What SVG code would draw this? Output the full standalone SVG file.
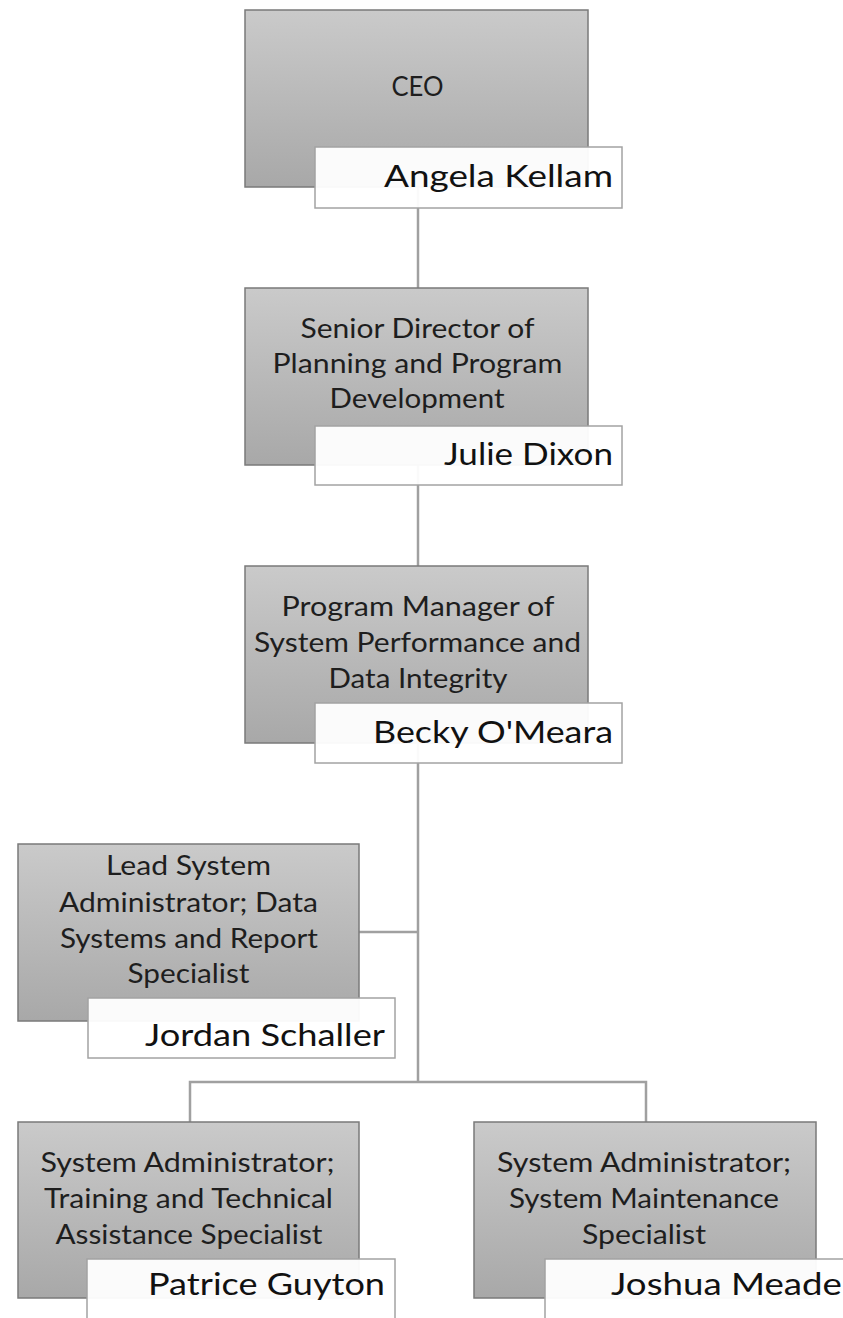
<svg xmlns="http://www.w3.org/2000/svg" width="843" height="1318" viewBox="0 0 843 1318">
<defs>
<linearGradient id="g" x1="0" y1="0" x2="0" y2="1">
<stop offset="0" stop-color="#cacaca"/>
<stop offset="1" stop-color="#a8a8a8"/>
</linearGradient>
<style>
.box{fill:url(#g);stroke:#7a7a7a;stroke-width:1.5}
.nm{fill:#ffffff;fill-opacity:0.95;stroke:#a3a3a3;stroke-width:1.5}
.t{font-family:Lato,"Liberation Sans",sans-serif;font-size:27px;fill:#1e1e1e;text-anchor:middle}
.n{font-family:Lato,"Liberation Sans",sans-serif;font-size:31px;fill:#111;text-anchor:end}
.c{fill:none;stroke:#a0a0a0;stroke-width:2.5}
</style>
</defs>
<rect width="843" height="1318" fill="#ffffff"/>
<g id="connectors">
<path class="c" d="M418 187V288"/>
<path class="c" d="M418 465V566"/>
<path class="c" d="M418 743V1082"/>
<path class="c" d="M359 932H418"/>
<path class="c" d="M190 1122V1082H646V1122"/>
</g>
<g id="ceo">
<rect class="box" x="245" y="10" width="343" height="177"/>
<text class="t" x="417.5" y="96" textLength="52" lengthAdjust="spacingAndGlyphs">CEO</text>
<rect class="nm" x="315" y="147" width="307" height="61"/>
<text class="n" x="613" y="187" textLength="229" lengthAdjust="spacingAndGlyphs">Angela Kellam</text>
</g>
<g id="senior-director">
<rect class="box" x="245" y="288" width="343" height="177"/>
<text class="t" x="417.5" y="338" textLength="234" lengthAdjust="spacingAndGlyphs">Senior Director of</text>
<text class="t" x="417.5" y="373" textLength="290" lengthAdjust="spacingAndGlyphs">Planning and Program</text>
<text class="t" x="417" y="408" textLength="175" lengthAdjust="spacingAndGlyphs">Development</text>
<rect class="nm" x="315" y="426" width="307" height="59"/>
<text class="n" x="613" y="465" textLength="169" lengthAdjust="spacingAndGlyphs">Julie Dixon</text>
</g>
<g id="program-manager">
<rect class="box" x="245" y="566" width="343" height="177"/>
<text class="t" x="418" y="616" textLength="273" lengthAdjust="spacingAndGlyphs">Program Manager of</text>
<text class="t" x="417.5" y="652" textLength="327" lengthAdjust="spacingAndGlyphs">System Performance  and</text>
<text class="t" x="418" y="688" textLength="179" lengthAdjust="spacingAndGlyphs">Data Integrity</text>
<rect class="nm" x="315" y="703" width="307" height="60"/>
<text class="n" x="613" y="743" textLength="240" lengthAdjust="spacingAndGlyphs">Becky O'Meara</text>
</g>
<g id="lead-sysadmin">
<rect class="box" x="18" y="844" width="341" height="177"/>
<text class="t" x="188.5" y="875" textLength="165" lengthAdjust="spacingAndGlyphs">Lead System</text>
<text class="t" x="188.5" y="912" textLength="259" lengthAdjust="spacingAndGlyphs">Administrator; Data</text>
<text class="t" x="189" y="948" textLength="258" lengthAdjust="spacingAndGlyphs">Systems and Report</text>
<text class="t" x="188.5" y="983" textLength="122" lengthAdjust="spacingAndGlyphs">Specialist</text>
<rect class="nm" x="88" y="998" width="307" height="60"/>
<text class="n" x="385" y="1046" textLength="240" lengthAdjust="spacingAndGlyphs">Jordan Schaller</text>
</g>
<g id="sysadmin-training">
<rect class="box" x="18" y="1122" width="341" height="176"/>
<text class="t" x="187.5" y="1172" textLength="294" lengthAdjust="spacingAndGlyphs">System Administrator;</text>
<text class="t" x="188.5" y="1208" textLength="289" lengthAdjust="spacingAndGlyphs">Training and Technical</text>
<text class="t" x="189" y="1244" textLength="267" lengthAdjust="spacingAndGlyphs">Assistance Specialist</text>
<rect class="nm" x="87" y="1259" width="308" height="70"/>
<text class="n" x="385" y="1295" textLength="237" lengthAdjust="spacingAndGlyphs">Patrice Guyton</text>
</g>
<g id="sysadmin-maintenance">
<rect class="box" x="474" y="1122" width="342" height="176"/>
<text class="t" x="644" y="1172" textLength="294" lengthAdjust="spacingAndGlyphs">System Administrator;</text>
<text class="t" x="644" y="1208" textLength="270" lengthAdjust="spacingAndGlyphs">System Maintenance</text>
<text class="t" x="644" y="1244" textLength="124" lengthAdjust="spacingAndGlyphs">Specialist</text>
<rect class="nm" x="545" y="1259" width="308" height="70"/>
<text class="n" x="842" y="1295" textLength="231" lengthAdjust="spacingAndGlyphs">Joshua Meade</text>
</g>
</svg>
